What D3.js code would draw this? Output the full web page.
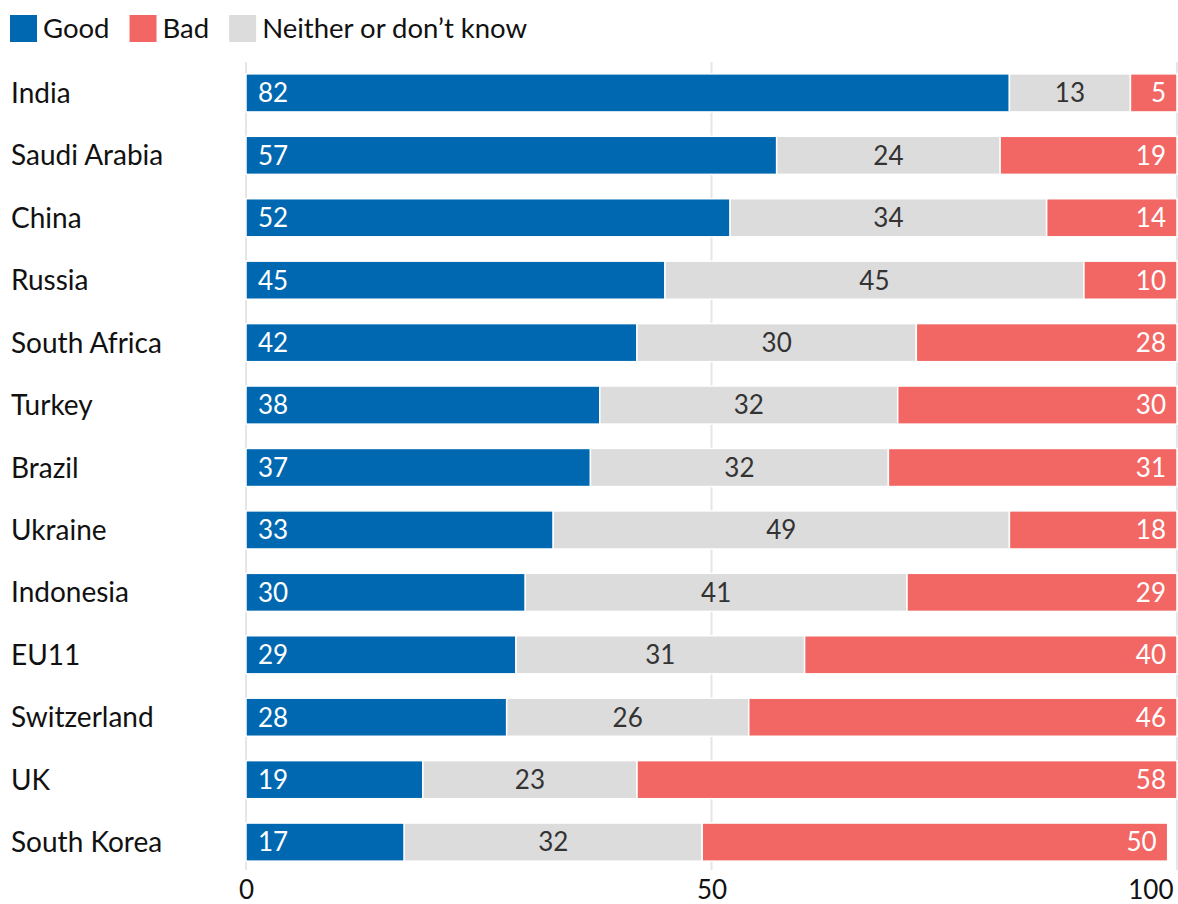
<!DOCTYPE html>
<html>
<head>
<meta charset="utf-8">
<script src="https://cdn.jsdelivr.net/npm/d3@7"></script>
<style>
  html, body { margin: 0; padding: 0; background: #fff; }
  svg { display: block; font-family: Lato, "Open Sans", sans-serif; }
</style>
</head>
<body>
<svg id="chart" width="1178" height="904"></svg>
<script>
// Survey shares (%) per country
const countries = ["India", "Saudi Arabia", "China", "Russia", "South Africa", "Turkey", "Brazil",
  "Ukraine", "Indonesia", "EU11", "Switzerland", "UK", "South Korea"];
const good    = [82, 57, 52, 45, 42, 38, 37, 33, 30, 29, 28, 19, 17];
const neither = [13, 24, 34, 45, 30, 32, 32, 49, 41, 31, 26, 23, 32];
const bad     = [5, 19, 14, 10, 28, 30, 31, 18, 29, 40, 46, 58, 50];
const xTicks  = [0, 50, 100];

const seriesKeys   = ["good", "neither", "bad"];
const legendLabels = [["good", "Good"], ["bad", "Bad"], ["neither", "Neither or don\u2019t know"]];
const colors = { good: "#0068b0", neither: "#dcdcdc", bad: "#f26764" };
const textColors = { good: "#ffffff", neither: "#333333", bad: "#ffffff" };

const rows = countries.map((c, i) => ({ country: c, good: good[i], neither: neither[i], bad: bad[i] }));

const svg = d3.select("#chart");
const margin = { left: 246, right: 0, top: 62, bottom: 40 };
const W = 1178, H = 904;

const x = d3.scaleLinear().domain([0, 100]).range([margin.left, W - 1]);
const y = d3.scaleBand().domain(countries).range([margin.top, 873]).paddingInner(0.39).paddingOuter(0.19);

// vertical gridlines
svg.append("g").selectAll("line").data(xTicks).join("line")
  .attr("x1", d => x(d)).attr("x2", d => x(d))
  .attr("y1", margin.top).attr("y2", 870)
  .attr("stroke", "#e6e6e6").attr("stroke-width", 2);

const stack = d3.stack().keys(seriesKeys)(rows);

const layers = svg.append("g").selectAll("g").data(stack).join("g")
  .attr("fill", d => colors[d.key]);

layers.selectAll("rect").data(d => d.map(v => Object.assign(v, { key: d.key }))).join("rect")
  .attr("x", d => x(d[0]))
  .attr("y", d => y(d.data.country))
  .attr("width", d => x(d[1]) - x(d[0]))
  .attr("height", y.bandwidth())
  .attr("stroke", "#fff").attr("stroke-width", 1.5);

// value labels
layers.selectAll("text").data(d => d).join("text")
  .attr("x", d => d.key === "good" ? x(d[0]) + 12 : d.key === "bad" ? x(d[1]) - 11 : (x(d[0]) + x(d[1])) / 2)
  .attr("y", d => y(d.data.country) + y.bandwidth() / 2)
  .attr("dy", "0.36em")
  .attr("text-anchor", d => d.key === "good" ? "start" : d.key === "bad" ? "end" : "middle")
  .attr("fill", d => textColors[d.key])
  .attr("font-size", 26)
  .text(d => d.data[d.key]);

// country labels
svg.append("g").selectAll("text").data(countries).join("text")
  .attr("x", 11)
  .attr("y", d => y(d) + y.bandwidth() / 2)
  .attr("dy", "0.36em")
  .attr("font-size", 28)
  .attr("fill", "#111")
  .text(d => d);

// x axis labels
const xAxis = d3.axisBottom(x).tickValues(xTicks).tickSize(0).tickPadding(0);
const axisG = svg.append("g").attr("transform", "translate(0,881)").call(xAxis);
axisG.select(".domain").remove();
axisG.selectAll("text")
  .attr("font-size", 26).attr("fill", "#111")
  .attr("font-family", "Lato, 'Open Sans', sans-serif")
  .attr("text-anchor", d => d === 100 ? "end" : "middle")
  .attr("dx", d => d === 100 ? -4 : 0);

// legend
const legend = svg.append("g").attr("transform", "translate(10,15)");
let lx = 0;
legendLabels.forEach(([k, label]) => {
  const g = legend.append("g").attr("transform", `translate(${lx},0)`);
  g.append("rect").attr("width", 27).attr("height", 27).attr("fill", colors[k]);
  const t = g.append("text").attr("x", 33).attr("y", 13.5).attr("dy", "0.36em")
    .attr("font-size", 27.5).attr("fill", "#111").text(label);
  lx += 33 + t.node().getComputedTextLength() + 20;
});
</script>
</body>
</html>
